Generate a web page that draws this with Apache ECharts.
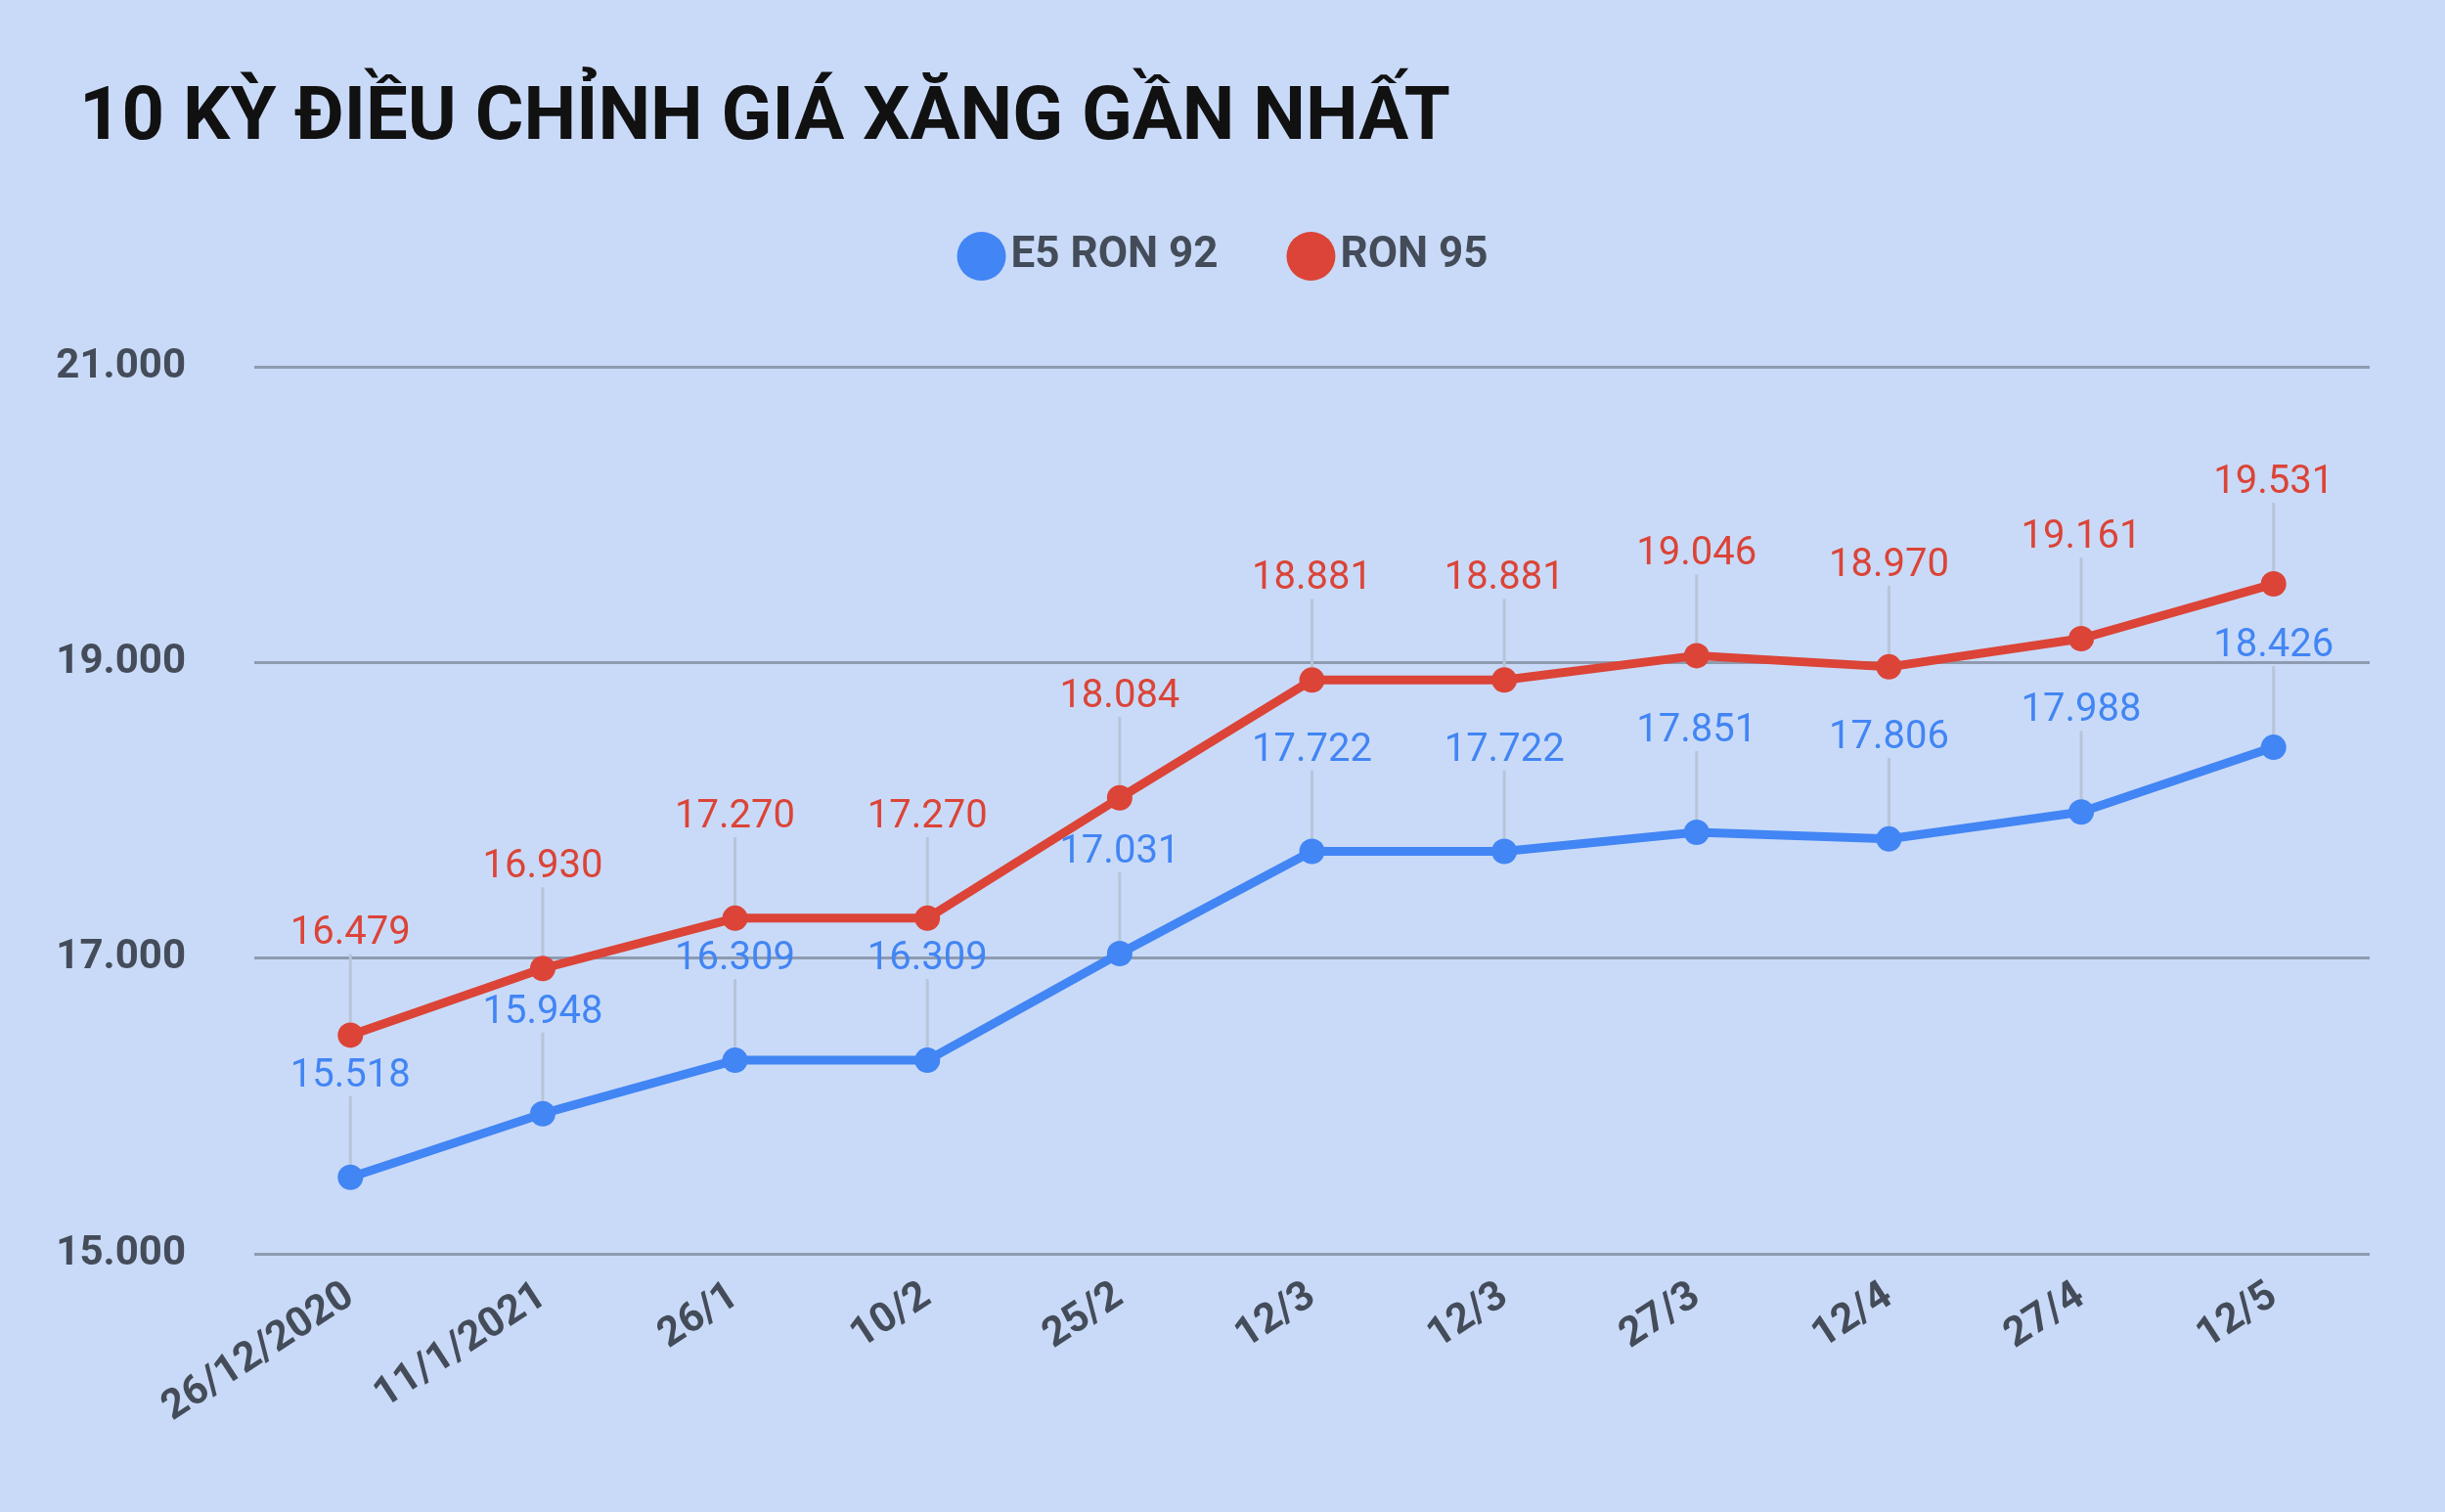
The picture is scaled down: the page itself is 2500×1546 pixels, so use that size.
<!DOCTYPE html>
<html>
<head>
<meta charset="utf-8">
<script src="https://cdn.jsdelivr.net/npm/echarts@6/dist/echarts.min.js"></script>
<style>
  html, body { margin: 0; padding: 0; background: #c9daf8; }
  #chart { width: 2500px; height: 1546px; }
</style>
</head>
<body>
<div id="chart"></div>
<script>
// dữ liệu
const categories = ['26/12/2020', '11/1/2021', '26/1', '10/2', '25/2', '12/3', '12/3', '27/3', '12/4', '27/4', '12/5'];
const e5Ron92 = [15518, 15948, 16309, 16309, 17031, 17722, 17722, 17851, 17806, 17988, 18426];
const ron95 = [16479, 16930, 17270, 17270, 18084, 18881, 18881, 19046, 18970, 19161, 19531];
const yTicks = [15000, 17000, 19000, 21000];

const fmt = v => String(v).replace(/\B(?=(\d{3})+(?!\d))/g, '.');

const chart = echarts.init(document.getElementById('chart'));

function mkSeries(name, data, color) {
  return {
    name: name,
    type: 'line',
    data: data,
    symbol: 'circle',
    symbolSize: 26,
    lineStyle: { width: 9, color: color },
    itemStyle: { color: color },
    label: {
      show: true,
      position: 'top',
      distance: 0,
      color: color,
      fontFamily: 'Roboto',
      fontSize: 40,
      formatter: p => fmt(p.value)
    },
    labelLayout: { dy: -70 },
    labelLine: { show: true, lineStyle: { color: '#b8c4d8', width: 3 } },
    emphasis: { disabled: true }
  };
}

chart.setOption({
  backgroundColor: '#c9daf8',
  animation: false,
  title: {
    text: '10 KỲ ĐIỀU CHỈNH GIÁ XĂNG GẦN NHẤT',
    left: 76,
    top: 80,
    textStyle: { fontFamily: 'Roboto', fontWeight: 'bold', fontSize: 76, color: '#111' }
  },
  legend: {
    top: 232,
    left: 'center',
    itemGap: 70,
    itemWidth: 50,
    itemHeight: 50,
    icon: 'circle',
    textStyle: { fontFamily: 'Roboto', fontWeight: 'bold', fontSize: 44, color: '#444c59' },
    data: ['E5 RON 92', 'RON 95']
  },
  grid: { left: 260, right: 77, top: 375, bottom: 264 },
  xAxis: {
    type: 'category',
    data: categories,
    boundaryGap: true,
    axisLine: { show: false },
    axisTick: { show: false },
    axisLabel: {
      rotate: 33,
      margin: 40,
      interval: 0,
      fontFamily: 'Roboto',
      fontWeight: 'bold',
      fontSize: 42,
      color: '#444c59'
    }
  },
  yAxis: {
    type: 'value',
    min: yTicks[0],
    max: yTicks[yTicks.length - 1],
    interval: 2000,
    axisLabel: {
      fontFamily: 'Roboto',
      fontWeight: 'bold',
      fontSize: 42,
      color: '#444c59',
      margin: 70,
      formatter: v => fmt(v)
    },
    splitLine: { lineStyle: { color: '#8e9bb0', width: 3 } }
  },
  series: [
    mkSeries('E5 RON 92', e5Ron92, '#4285f4'),
    mkSeries('RON 95', ron95, '#db4437')
  ]
});
</script>
</body>
</html>
